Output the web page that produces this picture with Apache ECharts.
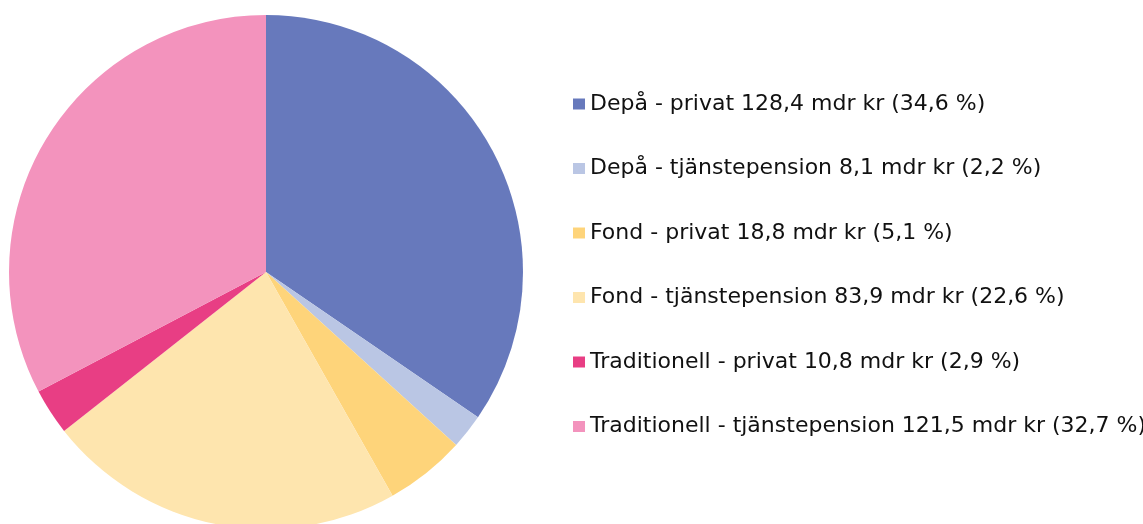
<!DOCTYPE html>
<html>
<head>
<meta charset="utf-8">
<script src="https://cdn.jsdelivr.net/npm/echarts@6/dist/echarts.min.js"></script>
<style>
  html, body { margin: 0; padding: 0; background: #fff; }
  #chart { width: 1143px; height: 524px; }
</style>
</head>
<body>
<div id="chart"></div>
<script>
var names = ['Depå - privat', 'Depå - tjänstepension', 'Fond - privat', 'Fond - tjänstepension', 'Traditionell - privat', 'Traditionell - tjänstepension'];
var values = [128.4, 8.1, 18.8, 83.9, 10.8, 121.5];
var percents = [34.6, 2.2, 5.1, 22.6, 2.9, 32.7];
var colors = ['#6779bc', '#bac6e4', '#fed47a', '#fee5ae', '#e83e84', '#f393bd'];

function fmt(n) {
  return n.toFixed(1).replace('.', ',');
}

var chart = echarts.init(document.getElementById('chart'));

var pieData = [];
for (var i = 0; i < names.length; i++) {
  pieData.push({ name: names[i], value: values[i], itemStyle: { color: colors[i] } });
}

var option = {
  animation: false,
  legend: {
    orient: 'vertical',
    left: 568,
    top: 88,
    itemWidth: 12,
    itemHeight: 11,
    itemGap: 42.5,
    icon: 'rect',
    selectedMode: false,
    textStyle: {
      fontFamily: '"DejaVu Sans", Verdana, sans-serif',
      fontSize: 22,
      color: '#111'
    },
    formatter: function (name) {
      var i = names.indexOf(name);
      return name + ' ' + fmt(values[i]) + ' mdr kr (' + fmt(percents[i]) + ' %)';
    },
    data: names
  },
  series: [{
    type: 'pie',
    center: [266, 272],
    radius: [0, 257],
    startAngle: 90,
    clockwise: true,
    label: { show: false },
    labelLine: { show: false },
    emphasis: { disabled: true },
    itemStyle: { borderWidth: 0 },
    data: pieData
  }]
};
chart.setOption(option);
</script>
</body>
</html>
